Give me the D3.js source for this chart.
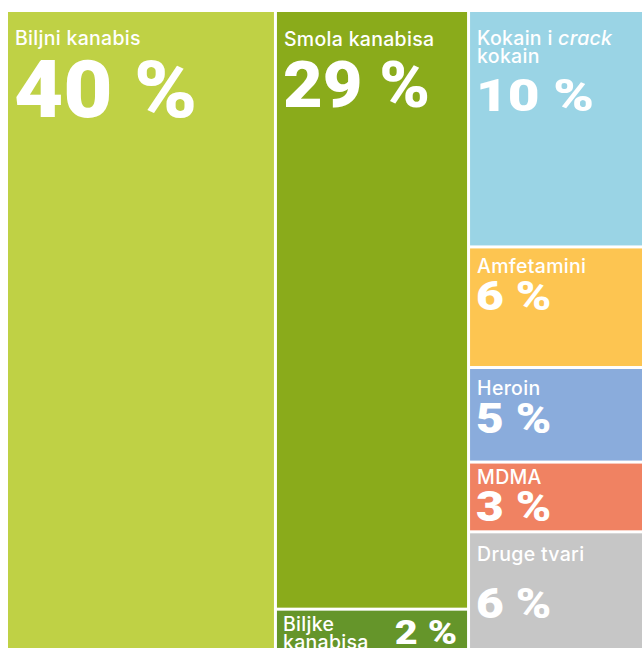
<!DOCTYPE html>
<html>
<head>
<meta charset="utf-8">
<title>Treemap</title>
<script src="https://d3js.org/d3.v7.min.js"></script>
<style>
  body { margin: 0; background: #fff; }
  text { fill: #fff; }
  .lab { font-family: Inter, "Noto Sans", sans-serif; }
  .num { font-family: Roboto, "Noto Sans", sans-serif; }
</style>
</head>
<body>
<div id="chart"></div>
<script>
// labels as printed on the tiles ("\n" = line break)
var categories = ["Biljni kanabis", "Smola kanabisa", "Biljke\nkanabisa", "Kokain i crack\nkokain",
                  "Amfetamini", "Heroin", "MDMA", "Druge tvari"];
var percentLabels = ["40 %", "29 %", "2 %", "10 %", "6 %", "5 %", "3 %", "6 %"];
// share of area, estimated from tile sizes in the picture
var areaShares = [42.2, 27.95, 2.35, 10.0, 5.1, 4.0, 2.95, 5.4];
var columnOf = [0, 1, 1, 2, 2, 2, 2, 2];
var italicWords = ["crack"];

var colors = ["#bfd145", "#8aab1b", "#65952a", "#9ad4e5", "#fdc551", "#8aacdc", "#f08262", "#c6c6c6"];

// text placement per tile: label baseline from tile top, number baseline from last label line,
// number size and horizontal stretch
var textStyle = [
  {ly: 33, ny: 72, ns: 80, sx: 1.065},
  {ly: 34, ny: 61, ns: 64, sx: 1.07},
  {ly: 20, ny: 13, ns: 33, sx: 1.2, right: true},
  {ly: 33, ny: 48, ns: 45, sx: 1.22},
  {ly: 24.5, ny: 36.6, ns: 40, sx: 1.2},
  {ly: 26, ny: 38, ns: 42, sx: 1.14},
  {ly: 20, ny: 37.7, ns: 42, sx: 1.14},
  {ly: 27.7, ny: 56.6, ns: 42, sx: 1.14}
];

var margin = {top: 12, left: 8},
    width = 634,
    height = 646;

var svg = d3.select("#chart").append("svg")
    .attr("width", 642)
    .attr("height", 648)
  .append("g")
    .attr("transform", "translate(" + margin.left + "," + margin.top + ")");

var items = categories.map(function(c, i) {
  return {i: i, name: c, label: percentLabels[i], value: areaShares[i], col: columnOf[i]};
});
var grouped = Array.from(d3.group(items, function(d) { return d.col; }), function(e) {
  return {children: e[1]};
});

var root = d3.hierarchy({children: grouped})
    .sum(function(d) { return d.value || 0; });

d3.treemap()
    .tile(d3.treemapSliceDice)
    .size([width, height])
    .paddingInner(3)(root);

var leaf = svg.selectAll("g.leaf")
  .data(root.leaves())
  .join("g")
    .attr("class", "leaf")
    .attr("transform", function(d) { return "translate(" + d.x0 + "," + d.y0 + ")"; });

leaf.append("rect")
    .attr("width", function(d) { return d.x1 - d.x0; })
    .attr("height", function(d) { return d.y1 - d.y0; })
    .attr("fill", function(d) { return colors[d.data.i]; });

leaf.each(function(d) {
  var g = d3.select(this),
      st = textStyle[d.data.i],
      lines = d.data.name.split("\n"),
      lh = 18;

  var t = g.append("text")
      .attr("class", "lab")
      .attr("font-size", 19.5)
      .attr("letter-spacing", 0.3)
      .attr("font-weight", 500);
  lines.forEach(function(line, k) {
    var words = line.split(" ");
    words.forEach(function(w, j) {
      var ts = t.append("tspan").text((j > 0 ? " " : "") + w);
      if (j === 0) ts.attr("x", st.right ? 6 : 7).attr("y", st.ly + k * lh);
      if (italicWords.indexOf(w) >= 0) ts.attr("font-style", "italic");
    });
  });

  var lastBase = st.ly + (lines.length - 1) * lh;
  var nx = st.right ? (d.x1 - d.x0) - 10 : 6,
      ny = st.right ? st.ly + st.ny : lastBase + st.ny;
  g.append("text")
      .attr("class", "num")
      .attr("transform", "translate(" + nx + "," + ny + ") scale(" + st.sx + ",1)")
      .attr("text-anchor", st.right ? "end" : "start")
      .attr("font-size", st.ns)
      .attr("font-weight", 900)
      .text(d.data.label);
});
</script>
</body>
</html>
